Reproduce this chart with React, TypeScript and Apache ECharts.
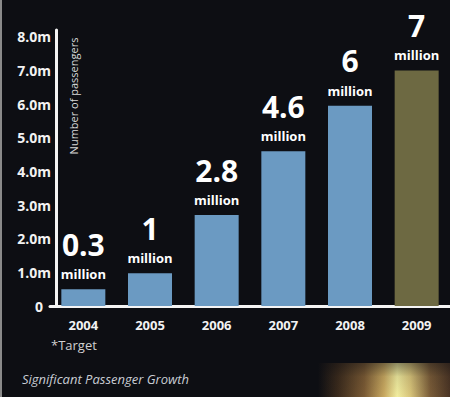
import React, { useEffect, useRef } from "react";
import * as echarts from "echarts";

const years = ["2004", "2005", "2006", "2007", "2008", "2009"];
// bar heights as drawn (millions)
const barValues = [0.5, 0.97, 2.7, 4.6, 5.95, 7.0];
// printed labels
const bigLabels = ["0.3", "1", "2.8", "4.6", "6", "7"];
const barColors = ["#6b9ac2", "#6b9ac2", "#6b9ac2", "#6b9ac2", "#6b9ac2", "#6d6942"];
const yTicks = [0, 1, 2, 3, 4, 5, 6, 7, 8];

const FONT = "'Open Sans', 'Noto Sans', sans-serif";

export default function App() {
  const ref = useRef<HTMLDivElement>(null);
  useEffect(() => {
    if (!ref.current) return;
    const chart = echarts.init(ref.current, undefined, { renderer: "svg" });
    chart.setOption({
      animation: false,
      backgroundColor: "#0d0e13",
      grid: { left: 50, right: -5, top: 30, bottom: 91 },
      xAxis: {
        type: "category",
        data: years,
        axisLine: { show: true, lineStyle: { color: "#f4f4f4", width: 3 } },
        axisTick: { show: false },
        axisLabel: {
          color: "#f2f2f2",
          fontFamily: FONT,
          fontWeight: "bold",
          fontSize: 13,
          margin: 12,
        },
      },
      yAxis: {
        type: "value",
        min: 0,
        max: 8.2,
        interval: 1,
        offset: -6,
        splitLine: { show: false },
        axisTick: { show: false },
        axisLine: { show: true, lineStyle: { color: "#f4f4f4", width: 3 } },
        axisLabel: {
          color: "#f2f2f2",
          fontFamily: FONT,
          fontWeight: "bold",
          fontSize: 14,
          margin: 5,
          formatter: (v: number) => {
            if (!yTicks.includes(v)) return "";
            return v === 0 ? "{z|0}" : v.toFixed(1) + "m";
          },
          rich: {
            z: {
              color: "#f2f2f2",
              fontFamily: FONT,
              fontWeight: "bold",
              fontSize: 14,
              padding: [0, 8, 0, 0],
            },
          },
        },
      },
      series: [
        {
          type: "bar",
          barWidth: 44,
          data: barValues.map((v, i) => ({
            value: v,
            itemStyle: { color: barColors[i] },
            label: {
              show: true,
              position: "top",
              distance: 6,
              formatter: "{a|" + bigLabels[i] + "}\n{b|million}",
            },
          })),
          label: {
            rich: {
              a: {
                color: "#ffffff",
                fontFamily: FONT,
                fontWeight: "bold",
                fontSize: 30,
                lineHeight: 42,
                align: "center",
              },
              b: {
                color: "#ffffff",
                fontFamily: FONT,
                fontWeight: "bold",
                fontSize: 13,
                lineHeight: 18,
                align: "center",
              },
            },
          },
        },
      ],
      graphic: [
        {
          type: "rect",
          left: 0,
          top: 0,
          shape: { width: 2, height: 397 },
          style: { fill: "#8a8a8a" },
          z: 100,
        },
        {
          type: "rect",
          x: 318,
          y: 363,
          shape: { width: 132, height: 34 },
          style: {
            fill: new echarts.graphic.LinearGradient(0, 0, 1, 0, [
              { offset: 0, color: "rgba(13,14,19,1)" },
              { offset: 0.15, color: "#3a2a1c" },
              { offset: 0.35, color: "#7a5a34" },
              { offset: 0.5, color: "#c8a860" },
              { offset: 0.6, color: "#f2eea0" },
              { offset: 0.7, color: "#d8c47a" },
              { offset: 0.85, color: "#7a5c38" },
              { offset: 1, color: "#4a3424" },
            ]),
          },
          z: -1,
        },
        {
          type: "rect",
          x: 318,
          y: 363,
          shape: { width: 132, height: 34 },
          style: {
            fill: new echarts.graphic.LinearGradient(0, 0, 0, 1, [
              { offset: 0, color: "rgba(13,14,19,0.45)" },
              { offset: 0.4, color: "rgba(13,14,19,0.1)" },
              { offset: 1, color: "rgba(13,14,19,0)" },
            ]),
          },
          z: -1,
        },
        {
          type: "text",
          x: 73,
          y: 96,
          rotation: Math.PI / 2,
          style: {
            text: "Number of passengers",
            fill: "#d8d8d8",
            font: "11px " + FONT,
            align: "center",
            verticalAlign: "middle",
          },
        },
        {
          type: "text",
          x: 51,
          y: 345,
          style: {
            text: "*Target",
            fill: "#d0d0d0",
            font: "13px " + FONT,
            verticalAlign: "middle",
          },
        },
        {
          type: "text",
          x: 22,
          y: 379,
          style: {
            text: "Significant Passenger Growth",
            fill: "#c8ccd4",
            font: "italic 13px " + FONT,
            verticalAlign: "middle",
          },
        },
      ],
    });
    return () => chart.dispose();
  }, []);
  return (
    <div
      ref={ref}
      style={{ position: "fixed", left: 0, top: 0, width: 450, height: 397 }}
    />
  );
}
